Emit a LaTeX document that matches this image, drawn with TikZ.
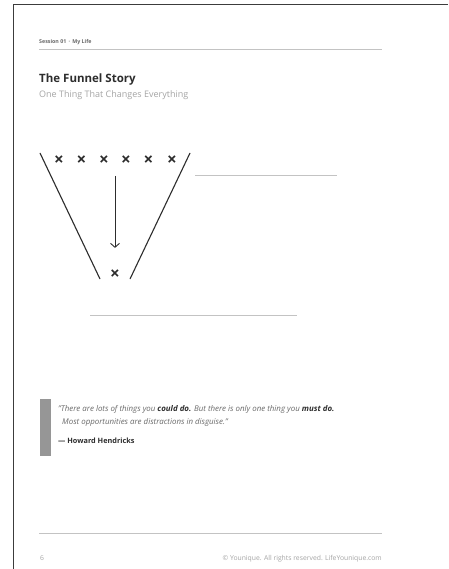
\documentclass[tikz,border=0pt]{standalone}
\usepackage{fontspec}
\setmainfont{Open Sans}
\usetikzlibrary{arrows.meta,positioning}
\definecolor{FrameGray}{RGB}{60,60,60}
\definecolor{RuleGray}{RGB}{195,195,195}
\definecolor{InkDark}{RGB}{45,45,45}
\definecolor{InkMid}{RGB}{105,105,105}
\definecolor{InkLight}{RGB}{165,165,165}
\definecolor{BarGray}{RGB}{150,150,150}

\begin{document}
\begin{tikzpicture}[x=1pt,y=-1pt,
  txt/.style={inner sep=0pt,anchor=base west},
  rule/.style={draw=RuleGray,line width=0.9pt},
  side/.style={draw=InkDark,line width=1.1pt},
  xmark/.style={inner sep=0pt,font=\fontsize{17}{17}\selectfont\bfseries,text=InkDark},
  arr/.style={-{Straight Barb[length=4pt,width=9pt]},line width=0.9pt,draw=InkDark}
]
  \useasboundingbox (0,0) rectangle (448,569);
  \fill[white] (0,0) rectangle (448,569);
  % page edge
  \draw[FrameGray,line width=1.6pt] (13.5,569) -- (13.5,4.5) -- (448,4.5);

  % header
  \node[txt,font=\fontsize{5.3}{6}\selectfont\bfseries,text=InkMid] (session) at (39,44) {Session 01 \,·\, My Life};
  \draw[rule] (39,49) -- (382,49);
  \node[txt,font=\fontsize{11.5}{12}\selectfont\bfseries,text=InkDark] (title) at (39,83) {The Funnel Story};
  \node[txt,font=\fontsize{9}{10}\selectfont,text=InkLight] (subtitle) at (39,97.5) {One Thing That Changes Everything};

  % funnel
  \draw[side] (40,153) -- (100,279);
  \draw[side] (190,153) -- (130,279);
  \foreach \i/\x in {1/59,2/81.5,3/104,4/126,5/148.5,6/172}
    \node[xmark] (top\i) at (\x,161) {×};
  \node[xmark] (xbot) at (115,275) {×};
  \coordinate (flow) at (115,176);
  \draw[arr,shorten >=22pt] (flow) -- (xbot);
  \draw[rule] (195,175) -- (337,175);
  \draw[rule] (90,315) -- (297,315);

  % quote
  \fill[BarGray] (40,399) rectangle (51,456);
  \node[txt,font=\fontsize{7.9}{8}\selectfont\itshape,text=InkMid] (quote1) at (58,411.5)
    {"There are lots of things you \textcolor{InkDark}{\bfseries could do.} But there is only one thing you \textcolor{InkDark}{\bfseries must do.}};
  \node[txt,font=\fontsize{7.9}{8}\selectfont\itshape,text=InkMid] (quote2) at (62,424.5)
    {Most opportunities are distractions in disguise."};
  \node[txt,font=\fontsize{7.3}{8}\selectfont\bfseries,text=InkDark] (author) at (58,443.5) {— Howard Hendricks};

  % footer
  \draw[rule] (39,533) -- (382,533);
  \node[txt,font=\fontsize{6.8}{7}\selectfont,text=InkLight] (pageno) at (40,560.5) {6};
  \node[inner sep=0pt,anchor=base east,font=\fontsize{6.8}{7}\selectfont,text=InkLight] (copy) at (382,560.5)
    {© Younique. All rights reserved. LifeYounique.com};
\end{tikzpicture}
\end{document}
